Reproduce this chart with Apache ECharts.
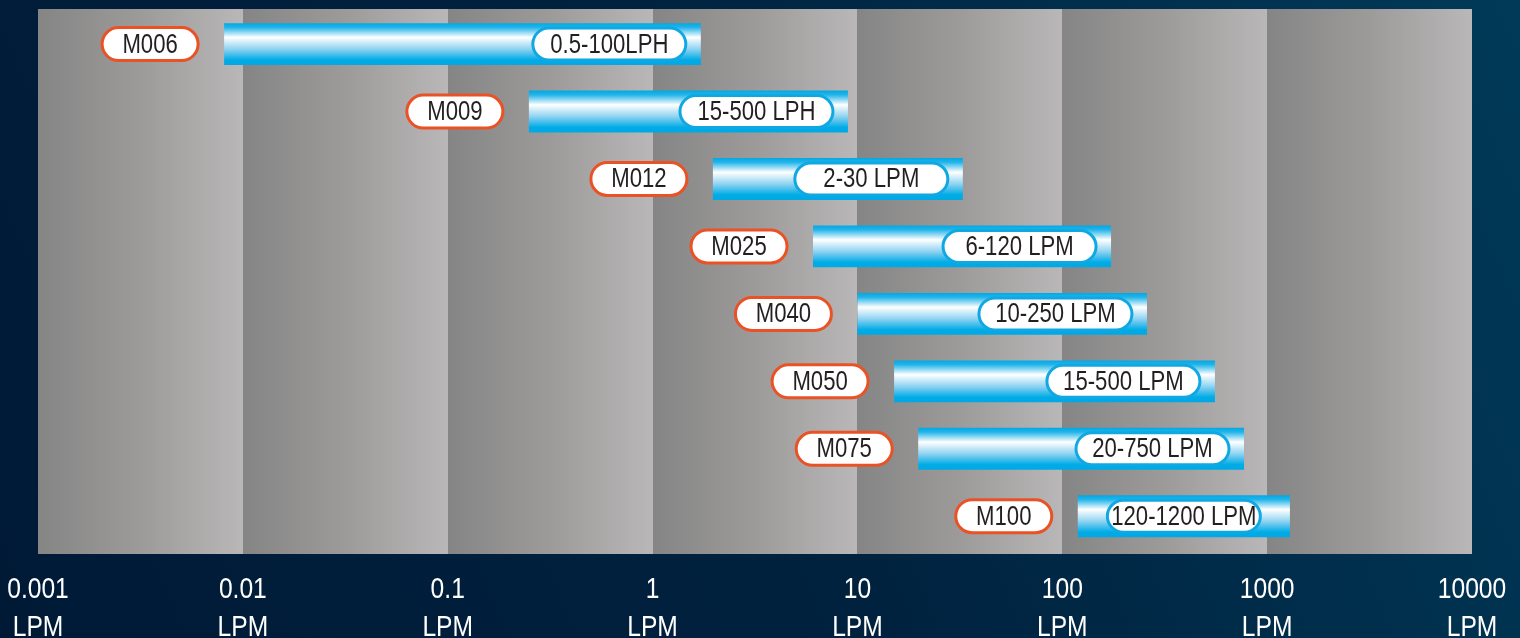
<!DOCTYPE html>
<html>
<head>
<meta charset="utf-8">
<script src="https://cdn.jsdelivr.net/npm/echarts@6/dist/echarts.min.js"></script>
<style>
html,body{margin:0;padding:0;width:1520px;height:638px;overflow:hidden;background:#00223f;}
#c{width:1520px;height:638px;}
</style>
</head>
<body>
<div id="c"></div>
<script>
// ---- data ----
const models = ['M006','M009','M012','M025','M040','M050','M075','M100'];
const rangeLabels = ['0.5-100LPH','15-500 LPH','2-30 LPM','6-120 LPM','10-250 LPM','15-500 LPM','20-750 LPM','120-1200 LPM'];
const minFlow = [0.0081, 0.249, 1.97, 6.07, 10.0, 15.1, 19.8, 119];
const maxFlow = [1.72, 8.99, 32.7, 173, 259, 556, 771, 1292];
const decadeStarts = [0.001, 0.01, 0.1, 1, 10, 100, 1000];
const decadeEnds = [0.01, 0.1, 1, 10, 100, 1000, 10000];
const tickLabels = ['0.001','0.01','0.1','1','10','100','1000','10000'];

const FONT = '"Liberation Sans","Arial",sans-serif';
const NARROW = 0.82;

const chart = echarts.init(document.getElementById('c'), null, {renderer:'canvas'});

const bandData = decadeStarts.map((s,i)=>[s, decadeEnds[i]]);
const barData = models.map((m,i)=>[minFlow[i], maxFlow[i], i]);

function pill(cx, cy, w, h, stroke, text){
  return {
    type:'group',
    children:[
      {type:'rect', shape:{x:cx-w/2, y:cy-h/2, width:w, height:h, r:h/2},
       style:{fill:'#ffffff', stroke:stroke, lineWidth:3}},
      {type:'text', x:cx, y:cy+1, scaleX:NARROW, scaleY:1,
       style:{text:text, x:0, y:0, align:'center', verticalAlign:'middle',
        fontSize:27, fontFamily:FONT, fill:'#231f20'}}
    ]
  };
}

const option = {
  backgroundColor: new echarts.graphic.LinearGradient(0,1,1,0,[
    {offset:0,color:'#001a36'},{offset:0.5,color:'#00223f'},{offset:1,color:'#003a58'}
  ]),
  animation:false,
  grid:{left:38, right:48, top:9, bottom:84, containLabel:false, outerBoundsMode:'none'},
  xAxis:{
    type:'log', logBase:10, min:0.001, max:10000,
    axisLine:{show:false}, axisTick:{show:false}, splitLine:{show:false},
    axisLabel:{
      show:true, showMinLabel:true, showMaxLabel:true, hideOverlap:false,
      color:'#ffffff', fontSize:30, lineHeight:38, fontFamily:FONT, margin:17,
      formatter:function(v, idx){ return tickLabels[idx] + '\nLPM'; }
    }
  },
  yAxis:{
    type:'value', inverse:true, min:-0.52, max:7.56, show:false
  },
  series:[
    {
      type:'custom', data:bandData, silent:true, z:1,
      renderItem:function(params, api){
        const cs = params.coordSys;
        const x0 = Math.round(api.coord([api.value(0), 0])[0]);
        const x1 = Math.round(api.coord([api.value(1), 0])[0]);
        const last = params.dataIndex === params.dataInsideLength - 1;
        return {type:'rect', shape:{x:x0, y:cs.y, width:x1-x0+(last?0:1), height:cs.height},
          style:{fill:new echarts.graphic.LinearGradient(0,0,1,0,[
            {offset:0,color:'#858585'},{offset:0.5,color:'#9d9b9a'},{offset:1,color:'#b9b7b7'}
          ])}};
      }
    },
    {
      type:'custom', data:barData, z:5,
      renderItem:function(params, api){
        const i = api.value(2);
        const p0 = api.coord([api.value(0), i]);
        const p1 = api.coord([api.value(1), i]);
        const rowH = api.size([0,1])[1];
        const bh = rowH*0.62;
        const cy = p0[1];
        const bw = p1[0]-p0[0];
        const bar = {type:'rect', shape:{x:p0[0], y:cy-bh/2, width:bw, height:bh},
          style:{fill:new echarts.graphic.LinearGradient(0,0,0,1,[
            {offset:0,color:'#00a9e5'},{offset:0.1,color:'#22b4e9'},
            {offset:0.34,color:'#ffffff'},{offset:0.62,color:'#8fd3f1'},
            {offset:0.88,color:'#00abe6'},{offset:1,color:'#00a9e5'}
          ])}};
        const rw = 96, bw2 = 153, ph = 33;
        const red = pill(p0[0]-26-rw/2, cy, rw, ph, '#ea5125', models[i]);
        let bcx = (bw < 230) ? (p0[0]+p1[0])/2 : p1[0]-15-bw2/2;
        const blue = pill(bcx, cy, bw2, 32, '#10a8e2', rangeLabels[i]);
        return {type:'group', children:[bar, red, blue]};
      }
    }
  ]
};
chart.setOption(option);

// narrow the axis label glyphs to match the condensed typeface of the original
function narrowAxisLabels(){
  const zr = chart.getZr();
  let changed = false;
  zr.storage.getRoots().forEach(function(root){
    const visit = function(el){
      if (el.style && typeof el.style.text === 'string' && el.style.text.indexOf('\n') >= 0 && el.scaleX !== NARROW) {
        el.scaleX = NARROW;
        el.markRedraw && el.markRedraw();
        el.dirty && el.dirty();
        changed = true;
      }
    };
    visit(root);
    if (root.traverse) root.traverse(visit);
  });
  if (changed) zr.refreshImmediately();
}
narrowAxisLabels();
chart.on('finished', narrowAxisLabels);
</script>
</body>
</html>
